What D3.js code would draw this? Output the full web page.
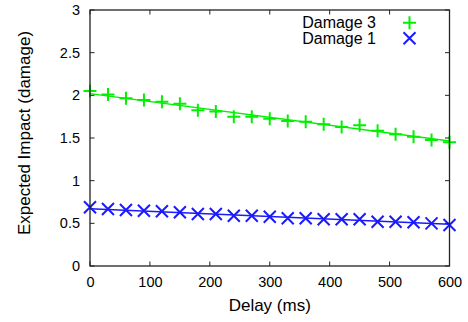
<!DOCTYPE html>
<html><head><meta charset="utf-8">
<script src="https://cdn.jsdelivr.net/npm/d3@7"></script>
<style>
html,body{margin:0;padding:0;background:#fff;}
svg{display:block;font-family:"Liberation Sans",Arial,Helvetica,sans-serif;}
</style></head>
<body>
<svg id="c" width="468" height="322"></svg>
<script>
const delays = [0,30,60,90,120,150,180,210,240,270,300,330,360,390,420,450,480,510,540,570,600];
const damage3 = [2.05,2.01,1.965,1.945,1.925,1.90,1.825,1.81,1.75,1.75,1.725,1.70,1.69,1.66,1.63,1.65,1.585,1.545,1.515,1.478,1.45];
const damage1 = [0.688,0.668,0.656,0.648,0.641,0.629,0.609,0.609,0.589,0.589,0.578,0.559,0.559,0.547,0.547,0.547,0.519,0.519,0.512,0.50,0.48];
const fitX = [0,600];
const fit3 = [2.02,1.465];
const fit1 = [0.67,0.49];
const xTicks = [0,100,200,300,400,500,600];
const yTicks = [0,0.5,1,1.5,2,2.5,3];
const seriesNames = ["Damage 3","Damage 1"];
const colors = ["#00f000","#1a1aff"];

const svg = d3.select("#c");
const L=90,R=449.5,T=10,B=266;
const x = d3.scaleLinear().domain([0,600]).range([L,R]);
const y = d3.scaleLinear().domain([0,3]).range([B,T]);
const fsTick = "14.5px", fsLeg = "16px", fsTitle = "17px";
const tl = 4.5;

// fit lines
const line = d3.line().x(d=>x(d[0])).y(d=>y(d[1]));
svg.append("path").attr("d",line(fitX.map((v,i)=>[v,fit3[i]]))).attr("stroke",colors[0]).attr("stroke-width",1.5).attr("fill","none");
svg.append("path").attr("d",line(fitX.map((v,i)=>[v,fit1[i]]))).attr("stroke",colors[1]).attr("stroke-width",1.5).attr("fill","none");

function plus(cx,cy,h){return `M${cx-h},${cy}H${cx+h}M${cx},${cy-h}V${cy+h}`;}
function cross(cx,cy,h){return `M${cx-h},${cy-h}L${cx+h},${cy+h}M${cx-h},${cy+h}L${cx+h},${cy-h}`;}

svg.append("g").selectAll("path").data(delays.map((d,i)=>[d,damage3[i]])).join("path")
  .attr("d",d=>plus(x(d[0]),y(d[1]),6.5)).attr("stroke",colors[0]).attr("stroke-width",2).attr("fill","none");
svg.append("g").selectAll("path").data(delays.map((d,i)=>[d,damage1[i]])).join("path")
  .attr("d",d=>cross(x(d[0]),y(d[1]),6)).attr("stroke",colors[1]).attr("stroke-width",2).attr("fill","none");

// axes with inward ticks, mirrored
const ax = svg.append("g").attr("stroke","#222").attr("stroke-width",1);
xTicks.forEach(t=>{
  ax.append("line").attr("x1",x(t)).attr("x2",x(t)).attr("y1",B).attr("y2",B-tl);
  ax.append("line").attr("x1",x(t)).attr("x2",x(t)).attr("y1",T).attr("y2",T+tl);
});
yTicks.forEach(t=>{
  ax.append("line").attr("x1",L).attr("x2",L+tl).attr("y1",y(t)).attr("y2",y(t));
  ax.append("line").attr("x1",R).attr("x2",R-tl).attr("y1",y(t)).attr("y2",y(t));
});
svg.append("rect").attr("x",L).attr("y",T).attr("width",R-L).attr("height",B-T)
  .attr("fill","none").attr("stroke","#222").attr("stroke-width",1.3);

const xa = svg.append("g").attr("transform",`translate(0,${B})`)
  .call(d3.axisBottom(x).tickValues(xTicks).tickSize(0).tickPadding(11).tickFormat(d3.format("d")));
xa.select(".domain").remove();
xa.selectAll("text").attr("font-size",fsTick).attr("fill","#000").attr("font-family","Liberation Sans, Arial, sans-serif");

const ya = svg.append("g").attr("transform",`translate(${L},0)`)
  .call(d3.axisLeft(y).tickValues(yTicks).tickSize(0).tickPadding(10).tickFormat(d=>String(d)));
ya.select(".domain").remove();
ya.selectAll("text").attr("font-size",fsTick).attr("fill","#000").attr("font-family","Liberation Sans, Arial, sans-serif");

svg.append("text").attr("x",(L+R)/2).attr("y",311).attr("text-anchor","middle").attr("font-size",fsTitle).text("Delay (ms)");
svg.append("text").attr("transform",`translate(30,133) rotate(-90)`).attr("text-anchor","middle").attr("font-size",fsTitle).text("Expected Impact (damage)");

// legend
const lg = svg.append("g");
[0,1].forEach(i=>{
  const cy = 22.7 + i*15.6;
  lg.append("text").attr("x",376).attr("y",cy).attr("dy","0.35em").attr("text-anchor","end").attr("font-size",fsLeg).text(seriesNames[i]);
  lg.append("path").attr("d",i===0?plus(409.5,cy,6.5):cross(409.5,cy,6)).attr("stroke",colors[i]).attr("stroke-width",2).attr("fill","none");
});
</script>
</body></html>
